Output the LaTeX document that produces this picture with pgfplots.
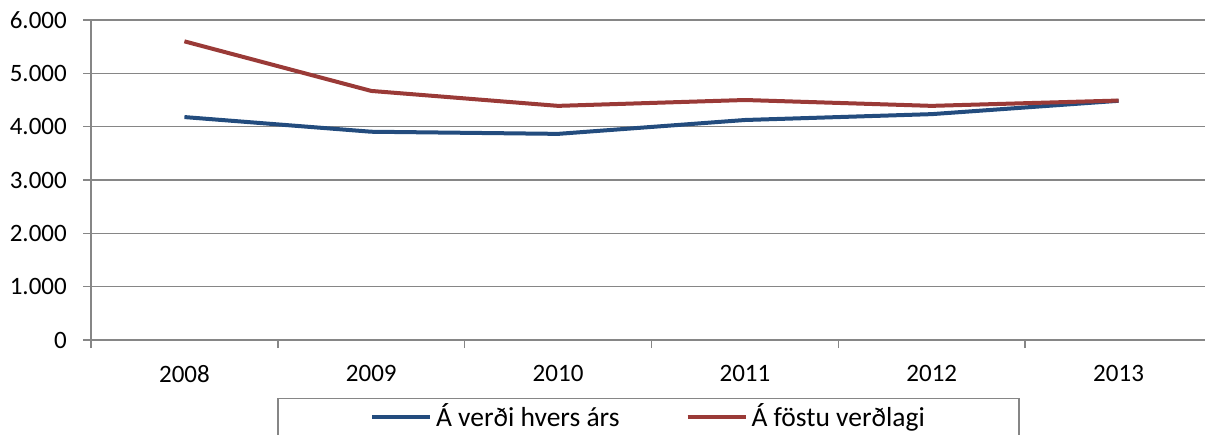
\documentclass[border=0pt]{standalone}
\usepackage{fontspec}
\setmainfont{Carlito}
\usepackage{pgfplots}
\pgfplotsset{compat=1.18}
\definecolor{gridgray}{RGB}{134,134,134}
\definecolor{serblue}{RGB}{35,76,126}
\definecolor{serred}{RGB}{154,58,55}

\begin{document}
\fontsize{25bp}{29bp}\selectfont
\begin{tikzpicture}[x=1bp,y=1bp]
\useasboundingbox (0,0) rectangle (1205,-435);
\begin{axis}[
  at={(91bp,-340bp)}, anchor=south west,
  scale only axis, width=1121bp, height=320bp,
  xmin=-0.5, xmax=5.5, ymin=0, ymax=6000,
  axis lines*=left,
  axis line style={gridgray, line width=1.5bp},
  ymajorgrids, grid style={gridgray, line width=1.5bp},
  ytick={0,1000,2000,3000,4000,5000,6000},
  xtick={-0.5,0.5,1.5,2.5,3.5,4.5,5.5},
  x tick label as interval,
  xticklabels={2008,2009,2010,2011,2012,2013},
  tick align=outside, major tick length=8bp,
  tick style={gridgray, line width=1.5bp},
  /pgf/number format/.cd, 1000 sep={.}, assume math mode=true,
  /pgfplots/.cd,
  yticklabel style={anchor=east, inner sep=0pt, xshift=-16bp},
  xticklabel style={anchor=north, inner sep=0pt, yshift=-17bp},
  legend columns=2,
  legend style={at={(axis description cs:0.4973,0)}, yshift=-58bp, anchor=north,
    draw=gridgray, line width=1.2bp, inner xsep=92bp, inner ysep=3bp,
    font=\fontsize{27.5bp}{31bp}\selectfont,
    /tikz/every odd column/.append style={column sep=2bp},
    /tikz/every even column/.append style={column sep=64bp}},
  legend image code/.code={\draw[#1, line width=4bp] (0bp,0bp) -- (58bp,0bp);},
]
\addplot[serblue, line width=4bp, line join=round] coordinates {
  (0,4180) (1,3905) (2,3865) (3,4125) (4,4235) (5,4485)};
\addplot[serred, line width=4bp, line join=round] coordinates {
  (0,5600) (1,4670) (2,4390) (3,4500) (4,4390) (5,4490)};
\legend{Á verði hvers árs, Á föstu verðlagi}
\end{axis}
\end{tikzpicture}
\end{document}
